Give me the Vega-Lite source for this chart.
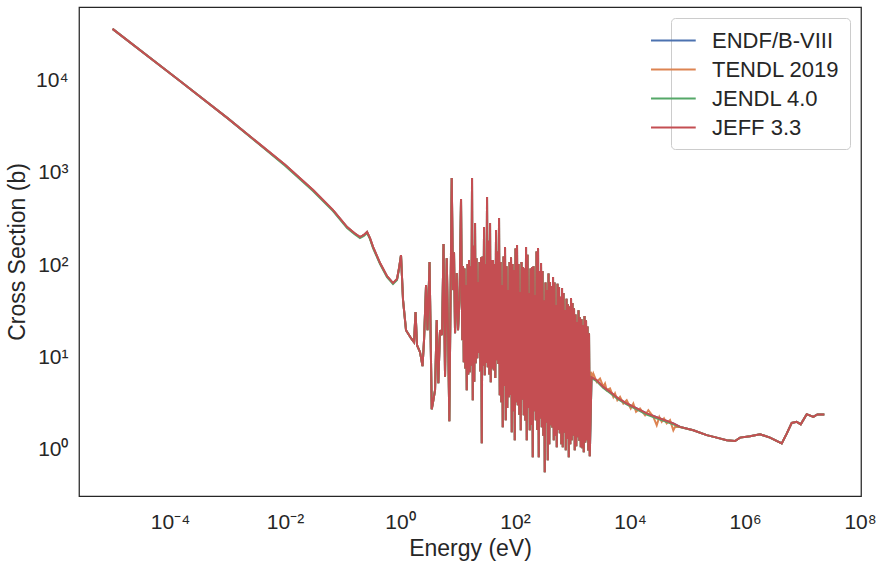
{
  "$schema": "https://vega.github.io/schema/vega-lite/v6.json",
  "width": 782,
  "height": 489,
  "autosize": {"type": "none"},
  "padding": {"left": 79, "top": 7, "right": 17, "bottom": 74},
  "background": "white",
  "config": {
    "view": {"stroke": "#262626", "strokeWidth": 1.25},
    "font": "Liberation Sans",
    "axis": {
      "domain": false, "ticks": false, "grid": false,
      "labelFont": "Liberation Sans", "labelFontSize": 21, "labelColor": "#262626",
      "titleFont": "Liberation Sans", "titleFontSize": 23, "titleFontWeight": "normal", "titleColor": "#262626",
      "labelFlush": false, "labelOverlap": false
    },
    "line": {"strokeWidth": 2}
  },
  "datasets": {
    "xs": [
      {"e":1e-5,"v":34100,"m":"bgor"},
      {"e":1.49e-4,"v":9270,"m":"bgor"},
      {"e":1e-3,"v":3656,"m":"bgor"},
      {"e":0.01,"v":1140,"m":"bor"},{"e":0.01,"v":1115,"m":"g"},
      {"e":0.0307,"v":606,"m":"bor"},{"e":0.0307,"v":591,"m":"g"},
      {"e":0.0684,"v":367,"m":"bor"},{"e":0.0684,"v":358,"m":"g"},
      {"e":0.12,"v":240,"m":"bor"},{"e":0.12,"v":234,"m":"g"},
      {"e":0.16,"v":207,"m":"bor"},{"e":0.16,"v":202,"m":"g"},
      {"e":0.201,"v":187,"m":"bor"},{"e":0.201,"v":182,"m":"g"},
      {"e":0.235,"v":197,"m":"bor"},{"e":0.235,"v":192,"m":"g"},
      {"e":0.267,"v":212,"m":"bor"},{"e":0.267,"v":207,"m":"g"},
      {"e":0.30,"v":182,"m":"bor"},{"e":0.30,"v":178,"m":"g"},
      {"e":0.339,"v":146,"m":"bor"},{"e":0.339,"v":142,"m":"g"},
      {"e":0.449,"v":97.5,"m":"bor"},{"e":0.449,"v":95,"m":"g"},
      {"e":0.594,"v":70.4,"m":"bor"},{"e":0.594,"v":68.6,"m":"g"},
      {"e":0.755,"v":59.1,"m":"bor"},{"e":0.755,"v":57.6,"m":"g"},
      {"e":0.887,"v":65.4,"m":"bor"},{"e":0.887,"v":63.8,"m":"g"},
      {"e":0.96,"v":86,"m":"bor"},{"e":0.96,"v":84,"m":"g"},
      {"e":1.04,"v":119,"m":"bgor"},
      {"e":1.128,"v":38.6,"m":"bgor"},
      {"e":1.271,"v":18.2,"m":"bgor"},
      {"e":1.553,"v":14.9,"m":"bgor"},
      {"e":1.752,"v":13.5,"m":"bgor"},
      {"e":1.861,"v":28.6,"m":"bgor"},
      {"e":1.975,"v":12.5,"m":"bgor"},
      {"e":2.227,"v":10.5,"m":"bgor"},
      {"e":2.462,"v":7.41,"m":"bgor"},
      {"e":2.615,"v":14.2,"m":"bgor"},
      {"e":2.833,"v":56.2,"m":"bgor"},
      {"e":3.008,"v":18.2,"m":"bgor"},
      {"e":3.26,"v":100,"m":"bgor"},
      {"e":3.558,"v":2.52,"m":"bgor"},
      {"e":3.795,"v":3.16,"m":"bgor"},
      {"e":4.062,"v":4.06,"m":"bgor"},
      {"e":4.348,"v":23.4,"m":"bgor"},
      {"e":4.636,"v":4.84,"m":"bgor"},
      {"e":4.963,"v":18.2,"m":"bgor"},
      {"e":5.376,"v":16.1,"m":"bgor"},
      {"e":5.708,"v":157,"m":"bgor"},
      {"e":6.062,"v":5.67,"m":"bgor"},
      {"e":6.49,"v":110,"m":"bgor"},
      {"e":6.835,"v":18.2,"m":"bgor"},
      {"e":7.2,"v":1.87,"m":"bgor"},
      {"e":7.555,"v":38.6,"m":"bgor"},
      {"e":7.93,"v":819,"m":"bgor"},
      {"e":8.35,"v":49.6,"m":"bgor"},
      {"e":8.69,"v":128,"m":"bgor"},
      {"e":9.05,"v":16.9,"m":"bgor"},
      {"e":9.68,"v":75.9,"m":"bgor"},
      {"e":10.2,"v":18.2,"m":"bgor"},
      {"e":10.83,"v":38.6,"m":"bgor"},
      {"e":11.5,"v":484,"m":"bgor"},
      {"e":12.07,"v":14.2,"m":"bgor"},
      {"e":12.46,"v":90.5,"m":"bgor"},{"e":12.84,"v":8.19,"m":"bgor"},{"e":13.23,"v":85,"m":"bgor"},{"e":13.63,"v":7.0,"m":"bgor"},
      {"e":14.05,"v":56.2,"m":"bgor"},{"e":14.48,"v":4.06,"m":"bgor"},{"e":14.92,"v":95,"m":"bgor"},{"e":15.37,"v":6.0,"m":"bgor"},
      {"e":15.85,"v":105,"m":"bgor"},{"e":16.33,"v":6.37,"m":"bgor"},{"e":16.83,"v":90,"m":"bgor"},{"e":17.34,"v":7.5,"m":"bgor"},
      {"e":17.87,"v":819,"m":"bgor"},{"e":18.42,"v":3.16,"m":"bgor"},{"e":18.98,"v":150,"m":"bgor"},{"e":19.56,"v":5.0,"m":"bgor"},
      {"e":20.15,"v":265,"m":"bgor"},{"e":20.76,"v":7.98,"m":"bgor"},{"e":21.40,"v":110,"m":"bgor"},{"e":22.05,"v":9.0,"m":"bgor"},
      {"e":22.73,"v":60.6,"m":"bgor"},{"e":23.42,"v":10.3,"m":"bgor"},{"e":24.13,"v":100,"m":"bgor"},{"e":24.87,"v":6.5,"m":"bgor"},
      {"e":25.63,"v":113,"m":"bgor"},{"e":26.41,"v":1.08,"m":"bgor"},{"e":27.21,"v":115,"m":"bgor"},{"e":28.05,"v":7.5,"m":"bgor"},
      {"e":28.90,"v":240,"m":"bgor"},{"e":29.78,"v":5.91,"m":"bgor"},{"e":30.69,"v":95,"m":"bgor"},{"e":31.63,"v":8.0,"m":"bgor"},
      {"e":32.59,"v":509,"m":"bgor"},{"e":33.58,"v":7.22,"m":"bgor"},{"e":34.60,"v":170,"m":"bgor"},{"e":35.66,"v":6.0,"m":"bgor"},
      {"e":36.75,"v":265,"m":"bgor"},{"e":37.87,"v":4.96,"m":"bgor"},{"e":39.02,"v":105,"m":"bgor"},{"e":40.22,"v":7.0,"m":"bgor"},
      {"e":41.44,"v":105,"m":"bgor"},{"e":42.70,"v":6.70,"m":"bgor"},{"e":44.00,"v":95,"m":"bgor"},{"e":45.35,"v":5.5,"m":"bgor"},
      {"e":46.73,"v":223,"m":"bgor"},{"e":48.16,"v":8.61,"m":"bgor"},{"e":49.62,"v":130,"m":"bgor"},{"e":51.14,"v":7.8,"m":"bgor"},
      {"e":52.69,"v":301,"m":"bgor"},{"e":54.30,"v":3.58,"m":"bgor"},{"e":55.95,"v":100,"m":"bgor"},{"e":57.66,"v":3.0,"m":"bgor"},
      {"e":59.42,"v":56.2,"m":"bgor"},{"e":61.23,"v":1.61,"m":"bgor"},{"e":63.10,"v":115,"m":"bgor"},{"e":65.02,"v":4.5,"m":"bgor"},
      {"e":67.00,"v":146,"m":"bgor"},{"e":69.04,"v":1.92,"m":"bgor"},{"e":71.15,"v":90,"m":"bgor"},{"e":73.32,"v":2.6,"m":"bgor"},
      {"e":75.56,"v":49.6,"m":"bgor"},{"e":77.86,"v":3.41,"m":"bgor"},{"e":80.23,"v":100,"m":"bgor"},{"e":82.69,"v":3.6,"m":"bgor"},
      {"e":85.20,"v":113,"m":"bgor"},{"e":87.80,"v":1.42,"m":"bgor"},{"e":90.48,"v":95,"m":"bgor"},{"e":93.23,"v":2.4,"m":"bgor"},
      {"e":96.08,"v":81.8,"m":"bgor"},{"e":99.01,"v":1.16,"m":"bgor"},{"e":102.0,"v":140,"m":"bgor"},{"e":105.1,"v":3.0,"m":"bgor"},
      {"e":108.3,"v":153,"m":"bgor"},{"e":111.6,"v":2.79,"m":"bgor"},{"e":115.1,"v":95,"m":"bgor"},{"e":118.5,"v":2.2,"m":"bgor"},
      {"e":122.2,"v":47.2,"m":"bgor"},{"e":125.9,"v":1.49,"m":"bgor"},{"e":129.7,"v":100,"m":"bgor"},{"e":133.7,"v":3.2,"m":"bgor"},
      {"e":137.8,"v":88.3,"m":"bgor"},{"e":142.0,"v":2.17,"m":"bgor"},{"e":146.3,"v":85,"m":"bgor"},{"e":150.8,"v":1.9,"m":"bgor"},
      {"e":155.4,"v":146,"m":"bgor"},{"e":160.1,"v":1.16,"m":"bgor"},{"e":165.0,"v":120,"m":"bgor"},{"e":170.1,"v":2.6,"m":"bgor"},
      {"e":175.2,"v":46.0,"m":"bgor"},{"e":180.5,"v":1.49,"m":"bgor"},{"e":186.0,"v":85,"m":"bgor"},{"e":191.7,"v":1.7,"m":"bgor"},
      {"e":197.6,"v":88.3,"m":"bgor"},{"e":203.6,"v":0.76,"m":"bgor"},{"e":209.8,"v":90,"m":"bgor"},{"e":216.2,"v":2.4,"m":"bgor"},
      {"e":222.8,"v":43.8,"m":"bgor"},{"e":229.6,"v":1.92,"m":"bgor"},{"e":236.6,"v":130,"m":"bgor"},{"e":243.8,"v":1.5,"m":"bgor"},
      {"e":251.2,"v":142,"m":"bgor"},{"e":258.9,"v":0.76,"m":"bgor"},{"e":266.8,"v":80,"m":"bgor"},{"e":274.9,"v":2.0,"m":"bgor"},
      {"e":283.3,"v":97.5,"m":"bgor"},{"e":291.9,"v":1.61,"m":"bgor"},{"e":300.8,"v":80,"m":"bgor"},{"e":310.0,"v":1.3,"m":"bgor"},
      {"e":319.4,"v":38.6,"m":"bgor"},{"e":329.1,"v":0.522,"m":"bgor"},{"e":339.2,"v":60,"m":"bgor"},{"e":349.5,"v":1.8,"m":"bgor"},
      {"e":360.2,"v":49.6,"m":"bgor"},{"e":371.2,"v":0.705,"m":"bgor"},{"e":382.5,"v":75,"m":"bgor"},{"e":394.2,"v":1.05,"m":"bgor"},
      {"e":406.2,"v":60.6,"m":"bgor"},{"e":418.6,"v":1.69,"m":"bgor"},{"e":431.3,"v":55,"m":"bgor"},{"e":444.5,"v":1.6,"m":"bgor"},
      {"e":458.1,"v":68.7,"m":"bgor"},{"e":472.1,"v":1.16,"m":"bgor"},{"e":486.4,"v":60,"m":"bgor"},{"e":501.3,"v":1.3,"m":"bgor"},
      {"e":516.5,"v":34.1,"m":"bgor"},{"e":532.3,"v":0.976,"m":"bgor"},{"e":548.5,"v":58,"m":"bgor"},{"e":565.2,"v":1.5,"m":"bgor"},
      {"e":582.5,"v":53.5,"m":"bgor"},{"e":600.3,"v":1.38,"m":"bgor"},{"e":618.5,"v":42,"m":"bgor"},{"e":637.4,"v":1.05,"m":"bgor"},
      {"e":656.8,"v":52.2,"m":"bgor"},{"e":676.8,"v":0.976,"m":"bgor"},{"e":697.5,"v":46,"m":"bgor"},{"e":718.7,"v":1.4,"m":"bgor"},
      {"e":740.6,"v":30.1,"m":"bgor"},{"e":763.2,"v":0.905,"m":"bgor"},{"e":786.5,"v":40,"m":"bgor"},{"e":810.4,"v":1.2,"m":"bgor"},
      {"e":835.2,"v":34.9,"m":"bgor"},{"e":860.7,"v":0.76,"m":"bgor"},{"e":886.9,"v":33,"m":"bgor"},{"e":914.0,"v":1.05,"m":"bgor"},
      {"e":941.7,"v":40.6,"m":"bgor"},{"e":970.4,"v":1.16,"m":"bgor"},{"e":1000,"v":36,"m":"bgor"},{"e":1030,"v":1.3,"m":"bgor"},
      {"e":1062,"v":31.6,"m":"bgor"},{"e":1094,"v":0.905,"m":"bgor"},{"e":1128,"v":27,"m":"bgor"},{"e":1162,"v":1.0,"m":"bgor"},
      {"e":1197,"v":22.3,"m":"bgor"},{"e":1234,"v":1.25,"m":"bgor"},{"e":1271,"v":30,"m":"bgor"},{"e":1310,"v":1.15,"m":"bgor"},
      {"e":1350,"v":25.2,"m":"bgor"},{"e":1391,"v":0.976,"m":"bgor"},{"e":1434,"v":24,"m":"bgor"},{"e":1477,"v":0.95,"m":"bgor"},
      {"e":1523,"v":20.7,"m":"bgor"},{"e":1569,"v":0.861,"m":"bgor"},{"e":1617,"v":26,"m":"bgor"},{"e":1667,"v":1.1,"m":"bgor"},
      {"e":1717,"v":23.4,"m":"bgor"},{"e":1769,"v":1.16,"m":"bgor"},{"e":1824,"v":20,"m":"bgor"},{"e":1879,"v":0.9,"m":"bgor"},
      {"e":1936,"v":16.9,"m":"bgor"},{"e":1995,"v":0.779,"m":"bgor"},
      {"e":2140,"v":5.62,"m":"br"},{"e":2140,"v":5.48,"m":"g"},
      {"e":2636,"v":5.21,"m":"br"},{"e":2636,"v":5.08,"m":"g"},
      {"e":3434,"v":4.41,"m":"br"},{"e":3434,"v":4.30,"m":"g"},
      {"e":4489,"v":3.89,"m":"br"},{"e":4489,"v":3.79,"m":"g"},
      {"e":6259,"v":3.30,"m":"br"},{"e":6259,"v":3.22,"m":"g"},
      {"e":8761,"v":2.91,"m":"br"},{"e":8761,"v":2.84,"m":"g"},
      {"e":13080,"v":2.57,"m":"br"},{"e":13080,"v":2.51,"m":"g"},
      {"e":19520,"v":2.27,"m":"br"},{"e":19520,"v":2.21,"m":"g"},
      {"e":33250,"v":2.00,"m":"br"},{"e":33250,"v":1.95,"m":"g"},
      {"e":56620,"v":1.77,"m":"br"},{"e":56620,"v":1.73,"m":"g"},
      {"e":2073,"v":6.42,"m":"o"},
      {"e":2210,"v":5.67,"m":"o"},
      {"e":2299,"v":6.17,"m":"o"},
      {"e":2636,"v":5.00,"m":"o"},
      {"e":3008,"v":5.44,"m":"o"},
      {"e":3434,"v":4.41,"m":"o"},
      {"e":3675,"v":4.80,"m":"o"},
      {"e":3934,"v":4.06,"m":"o"},
      {"e":4489,"v":4.24,"m":"o"},
      {"e":5123,"v":3.43,"m":"o"},
      {"e":5483,"v":3.74,"m":"o"},
      {"e":6013,"v":3.16,"m":"o"},
      {"e":6700,"v":3.43,"m":"o"},
      {"e":7646,"v":2.91,"m":"o"},
      {"e":8761,"v":3.16,"m":"o"},
      {"e":10280,"v":2.57,"m":"o"},
      {"e":11410,"v":2.91,"m":"o"},
      {"e":12720,"v":2.36,"m":"o"},
      {"e":14920,"v":2.57,"m":"o"},
      {"e":18240,"v":2.17,"m":"o"},
      {"e":20810,"v":2.46,"m":"o"},
      {"e":22910,"v":2.27,"m":"o"},
      {"e":25430,"v":2.08,"m":"o"},
      {"e":29130,"v":1.69,"m":"o"},
      {"e":32330,"v":2.08,"m":"o"},
      {"e":35590,"v":1.84,"m":"o"},
      {"e":39030,"v":2.00,"m":"o"},
      {"e":43470,"v":1.77,"m":"o"},
      {"e":49640,"v":1.92,"m":"o"},
      {"e":56620,"v":1.49,"m":"o"},
      {"e":60620,"v":1.62,"m":"o"},
      {"e":74060,"v":1.62,"m":"bgor"},
      {"e":126200,"v":1.49,"m":"bgor"},
      {"e":215800,"v":1.32,"m":"bgor"},
      {"e":322000,"v":1.24,"m":"bgor"},
      {"e":480500,"v":1.16,"m":"bgor"},
      {"e":670000,"v":1.14,"m":"bgor"},
      {"e":818500,"v":1.24,"m":"bgor"},
      {"e":1222000,"v":1.28,"m":"bgor"},
      {"e":1824000,"v":1.35,"m":"bgor"},
      {"e":2722000,"v":1.24,"m":"bgor"},
      {"e":4347000,"v":1.07,"m":"bgor"},
      {"e":5311000,"v":1.37,"m":"bgor"},
      {"e":6490000,"v":1.79,"m":"bgor"},
      {"e":7928000,"v":1.84,"m":"bgor"},
      {"e":9304000,"v":1.73,"m":"bgor"},
      {"e":11830000,"v":2.23,"m":"bgor"},
      {"e":15410000,"v":2.08,"m":"bgor"},
      {"e":18090000,"v":2.21,"m":"bgor"},
      {"e":23940000,"v":2.21,"m":"bgor"}
    ]
  },
  "data": {"name": "xs"},
  "encoding": {
    "x": {
      "field": "e", "type": "quantitative", "title": "Energy (eV)",
      "scale": {"type": "log", "domain": [2.61e-6, 1.04e8], "nice": false},
      "axis": {
        "values": [1e-4, 1e-2, 1, 100, 10000, 1000000, 100000000],
        "labelExpr": "'10' + (datum.value < 1 ? '⁻' : '') + ['⁰','¹','²','³','⁴','⁵','⁶','⁷','⁸','⁹'][abs(round(log(datum.value)/LN10))]",
        "labelPadding": 15, "titlePadding": 5
      }
    },
    "y": {
      "field": "v", "type": "quantitative", "title": "Cross Section (b)",
      "scale": {"type": "log", "domain": [0.288, 58900], "nice": false},
      "axis": {
        "values": [1, 10, 100, 1000, 10000],
        "labelExpr": "'10' + (datum.value < 1 ? '⁻' : '') + ['⁰','¹','²','³','⁴','⁵','⁶','⁷','⁸','⁹'][abs(round(log(datum.value)/LN10))]",
        "labelPadding": 11, "titlePadding": 6, "labelOffset": 3
      }
    }
  },
  "layer": [
    {
      "transform": [{"filter": "indexof(datum.m, 'b') >= 0"}],
      "mark": {"type": "line", "strokeWidth": 2},
      "encoding": {
        "color": {
          "datum": "ENDF/B-VIII", "type": "nominal",
          "scale": {"domain": ["ENDF/B-VIII", "TENDL 2019", "JENDL 4.0", "JEFF 3.3"], "range": ["#4C72B0", "#DD8452", "#55A868", "#C44E52"]},
          "legend": {
            "title": null, "orient": "none", "legendX": 592, "legendY": 11,
            "symbolType": "M-3.8,0H0.2", "symbolSize": 500, "symbolStrokeWidth": 2,
            "labelFont": "Liberation Sans", "labelFontSize": 22, "labelColor": "#262626",
            "labelOffset": 6, "rowPadding": 5, "padding": 10,
            "fillColor": "white", "strokeColor": "#cccccc", "cornerRadius": 4
          }
        }
      }
    },
    {
      "transform": [{"filter": "indexof(datum.m, 'o') >= 0"}],
      "mark": {"type": "line", "strokeWidth": 2},
      "encoding": {"color": {"datum": "TENDL 2019", "type": "nominal"}}
    },
    {
      "transform": [{"filter": "indexof(datum.m, 'g') >= 0"}],
      "mark": {"type": "line", "strokeWidth": 2},
      "encoding": {"color": {"datum": "JENDL 4.0", "type": "nominal"}}
    },
    {
      "transform": [{"filter": "indexof(datum.m, 'r') >= 0"}],
      "mark": {"type": "line", "strokeWidth": 2},
      "encoding": {"color": {"datum": "JEFF 3.3", "type": "nominal"}}
    }
  ]
}
